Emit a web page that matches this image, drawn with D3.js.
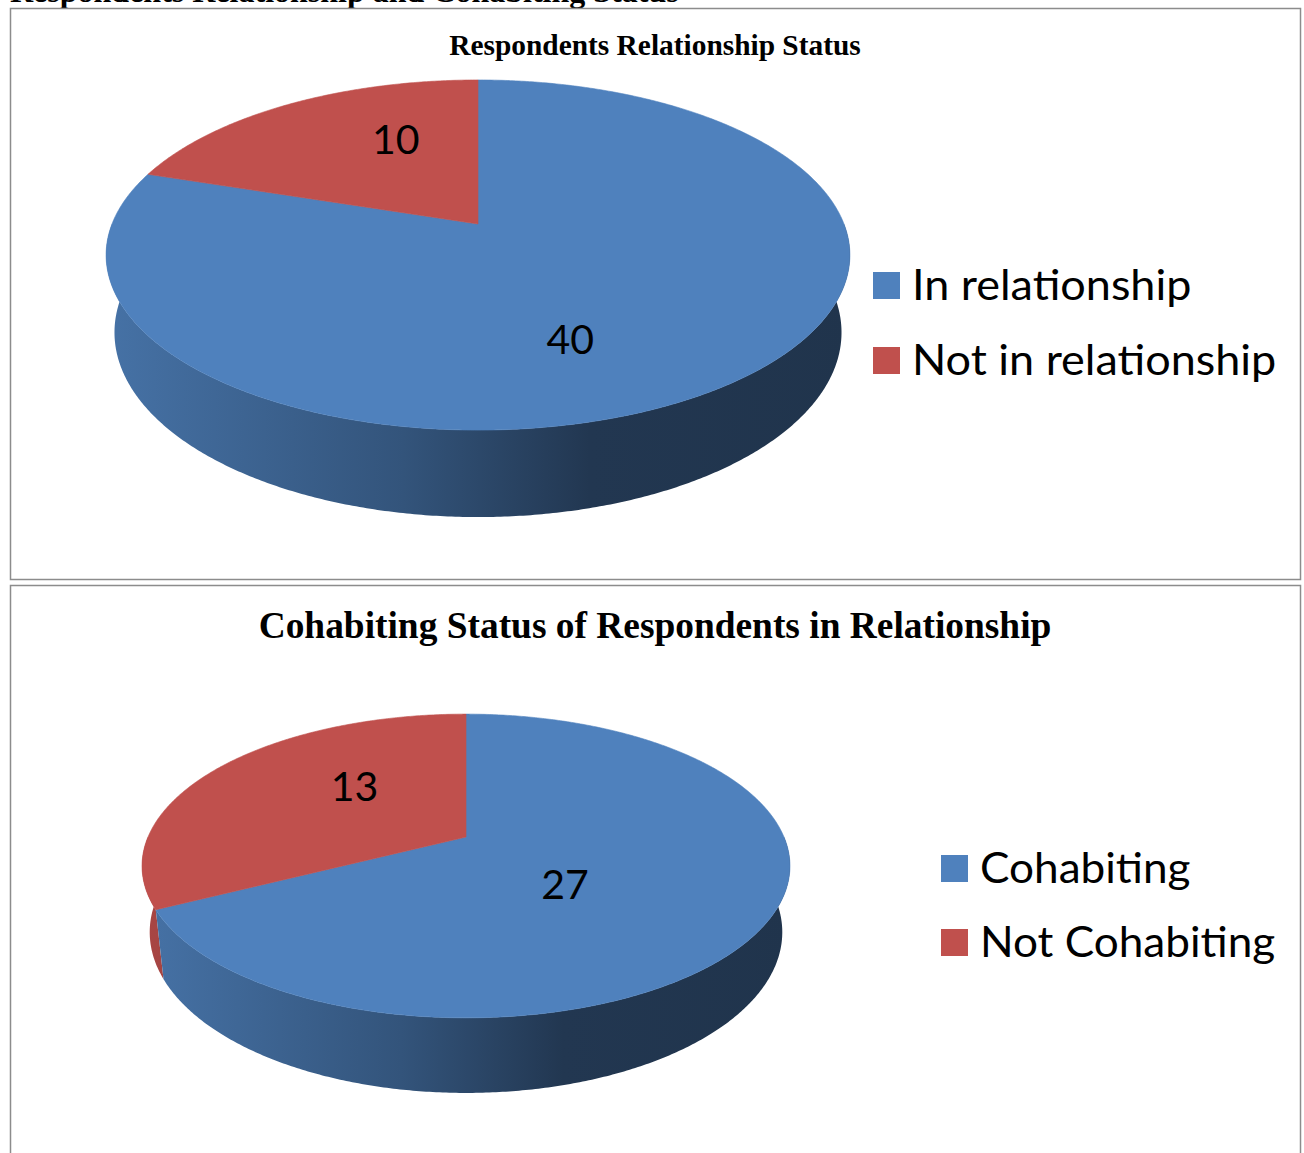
<!DOCTYPE html>
<html>
<head>
<meta charset="utf-8">
<script src="https://cdn.jsdelivr.net/npm/d3@7"></script>
<style>
  html, body { margin: 0; padding: 0; background: #ffffff; }
  svg { display: block; }
</style>
</head>
<body>
<svg id="chart" width="1304" height="1153"></svg>
<script>
// ---------------- data ----------------
const pageHeading = "Respondents Relationship and Cohabiting Status";

const chart1Title = "Respondents Relationship Status";
const chart1Categories = ["In relationship", "Not in relationship"];
const chart1Values = [40, 10];

const chart2Title = "Cohabiting Status of Respondents in Relationship";
const chart2Categories = ["Cohabiting", "Not Cohabiting"];
const chart2Values = [27, 13];

const seriesColors = ["#4F81BD", "#C0504D"];

// ---------------- layout ----------------
const svg = d3.select("#chart");
const DEG = Math.PI / 180;

const charts = [
  {
    id: "c1", title: chart1Title, categories: chart1Categories, values: chart1Values,
    box: { x: 10, y: 8, w: 1290, h: 571 },
    titleX: 655, titleY: 55, titleSize: 29.4,
    pie: { cx: 478, cy: 224, rx: 366, alpha: 27.6 * DEG, rl: 0.2, depth: 0.2408 },
    labelR: 0.63, labelShift: 14 * DEG, labelSize: 41, labelDx: -4, labelDy: 5,
    legend: { x: 873, y: 272, step: 75, size: 27, fontSize: 42, stretch: 1.07 }
  },
  {
    id: "c2", title: chart2Title, categories: chart2Categories, values: chart2Values,
    box: { x: 10, y: 585, w: 1290, h: 620 },
    titleX: 655, titleY: 638, titleSize: 37.4,
    pie: { cx: 466, cy: 837, rx: 318, alpha: 27.4 * DEG, rl: 0.215, depth: 0.2363 },
    labelR: 0.47, labelShift: 14 * DEG, labelSize: 41, labelDx: -13, labelDy: -5,
    legend: { x: 941, y: 855, step: 74, size: 27, fontSize: 42, stretch: 1.05 }
  }
];

// page heading (cut off at top)
svg.append("text")
  .attr("x", 10).attr("y", 2)
  .attr("font-family", "'Liberation Serif', 'Times New Roman', serif")
  .attr("font-weight", "bold")
  .attr("font-size", 32)
  .attr("fill", "#000")
  .text(pageHeading);

// perspective projection of a point on the pie disc
function project(p, theta, r, Y) {
  const L = 1 / p.rl, h = L * Math.sin(p.alpha), d = L * Math.cos(p.alpha), F = p.rx * L;
  const c = r * Math.cos(theta), s = r * Math.sin(theta);
  const yc = (Y * d + h * c) / L;
  const zc = (L * L - Y * h + d * c) / L;
  return [p.cx + F * s / zc, p.cy - F * yc / zc];
}
function arcPts(p, a0, a1, Y) {
  const n = Math.max(2, Math.ceil(Math.abs(a1 - a0) / (0.5 * DEG)) + 1);
  return d3.range(n).map(i => project(p, a0 + (a1 - a0) * i / (n - 1), 1, Y));
}

const defs = svg.append("defs");
const line = d3.line();
const shadeStops = [[0, 0.88], [0.4, 0.65], [0.65, 0.43], [1, 0.40]];

charts.forEach(ch => {
  const g = svg.append("g");
  const p = ch.pie;

  // frame
  g.append("rect")
    .attr("x", ch.box.x + 0.5).attr("y", ch.box.y + 0.5)
    .attr("width", ch.box.w).attr("height", ch.box.h)
    .attr("fill", "#fff").attr("stroke", "#8c8c8c").attr("stroke-width", 1.5);

  // title
  g.append("text")
    .attr("x", ch.titleX).attr("y", ch.titleY)
    .attr("text-anchor", "middle")
    .attr("font-family", "'Liberation Serif', 'Times New Roman', serif")
    .attr("font-weight", "bold")
    .attr("font-size", ch.titleSize)
    .attr("fill", "#000")
    .text(ch.title);

  const color = d3.scaleOrdinal().domain(ch.categories).range(seriesColors);
  const data = ch.categories.map((c, i) => ({ category: c, value: ch.values[i] }));
  const arcs = d3.pie().sort(null).value(d => d.value).startAngle(0).endAngle(2 * Math.PI)(data);

  // side gradients
  ch.categories.forEach((c, i) => {
    const base = d3.rgb(color(c));
    const gr = defs.append("linearGradient")
      .attr("id", ch.id + "side" + i)
      .attr("gradientUnits", "userSpaceOnUse")
      .attr("x1", p.cx - p.rx * 1.02).attr("x2", p.cx + p.rx * 1.02)
      .attr("y1", 0).attr("y2", 0);
    shadeStops.forEach(([o, f]) => {
      gr.append("stop").attr("offset", o)
        .attr("stop-color", d3.rgb(base.r * f, base.g * f, base.b * f).formatHex());
    });
  });

  const bottomY = -p.depth;
  // outer walls (front half only)
  const walls = [];
  arcs.forEach((a, i) => {
    const s = Math.max(a.startAngle, Math.PI / 2);
    const e = Math.min(a.endAngle, 3 * Math.PI / 2);
    if (s < e) {
      const top = arcPts(p, s, e, 0);
      const bot = arcPts(p, e, s, bottomY);
      walls.push({ pts: top.concat(bot), i, mid: (s + e) / 2 });
    }
  });
  walls.sort((a, b) => Math.cos(b.mid) - Math.cos(a.mid));
  walls.forEach(w => {
    g.append("path")
      .attr("d", line(w.pts) + "Z")
      .attr("fill", `url(#${ch.id}side${w.i})`);
  });

  // top faces
  arcs.forEach(a => {
    const pts = [project(p, 0, 0, 0)].concat(arcPts(p, a.startAngle, a.endAngle, 0));
    g.append("path")
      .attr("d", line(pts) + "Z")
      .attr("fill", color(a.data.category))
      .attr("stroke", color(a.data.category))
      .attr("stroke-width", 0.6);
  });

  // data labels
  arcs.forEach(a => {
    const mid = (a.startAngle + a.endAngle) / 2 + ch.labelShift;
    const [lx, ly] = project(p, mid, ch.labelR, 0);
    g.append("text")
      .attr("x", lx + ch.labelDx).attr("y", ly + ch.labelDy + ch.labelSize * 0.36)
      .attr("text-anchor", "middle")
      .attr("font-family", "Lato, 'Open Sans', sans-serif")
      .attr("font-size", ch.labelSize)
      .attr("fill", "#000")
      .text(a.data.value);
  });

  // legend
  const lg = ch.legend;
  const items = g.selectAll(".leg").data(ch.categories).enter().append("g")
    .attr("transform", (d, i) => `translate(${lg.x},${lg.y + i * lg.step})`);
  items.append("rect")
    .attr("width", lg.size).attr("height", lg.size)
    .attr("fill", d => color(d));
  items.append("text")
    .attr("x", lg.size + 12).attr("y", lg.size + 1)
    .attr("font-family", "Lato, 'Open Sans', sans-serif")
    .attr("font-size", lg.fontSize)
    .attr("fill", "#000")
    .text(d => d)
    .each(function () {
      const w = this.getComputedTextLength();
      d3.select(this).attr("textLength", w * lg.stretch).attr("lengthAdjust", "spacingAndGlyphs");
    });
});
</script>
</body>
</html>
